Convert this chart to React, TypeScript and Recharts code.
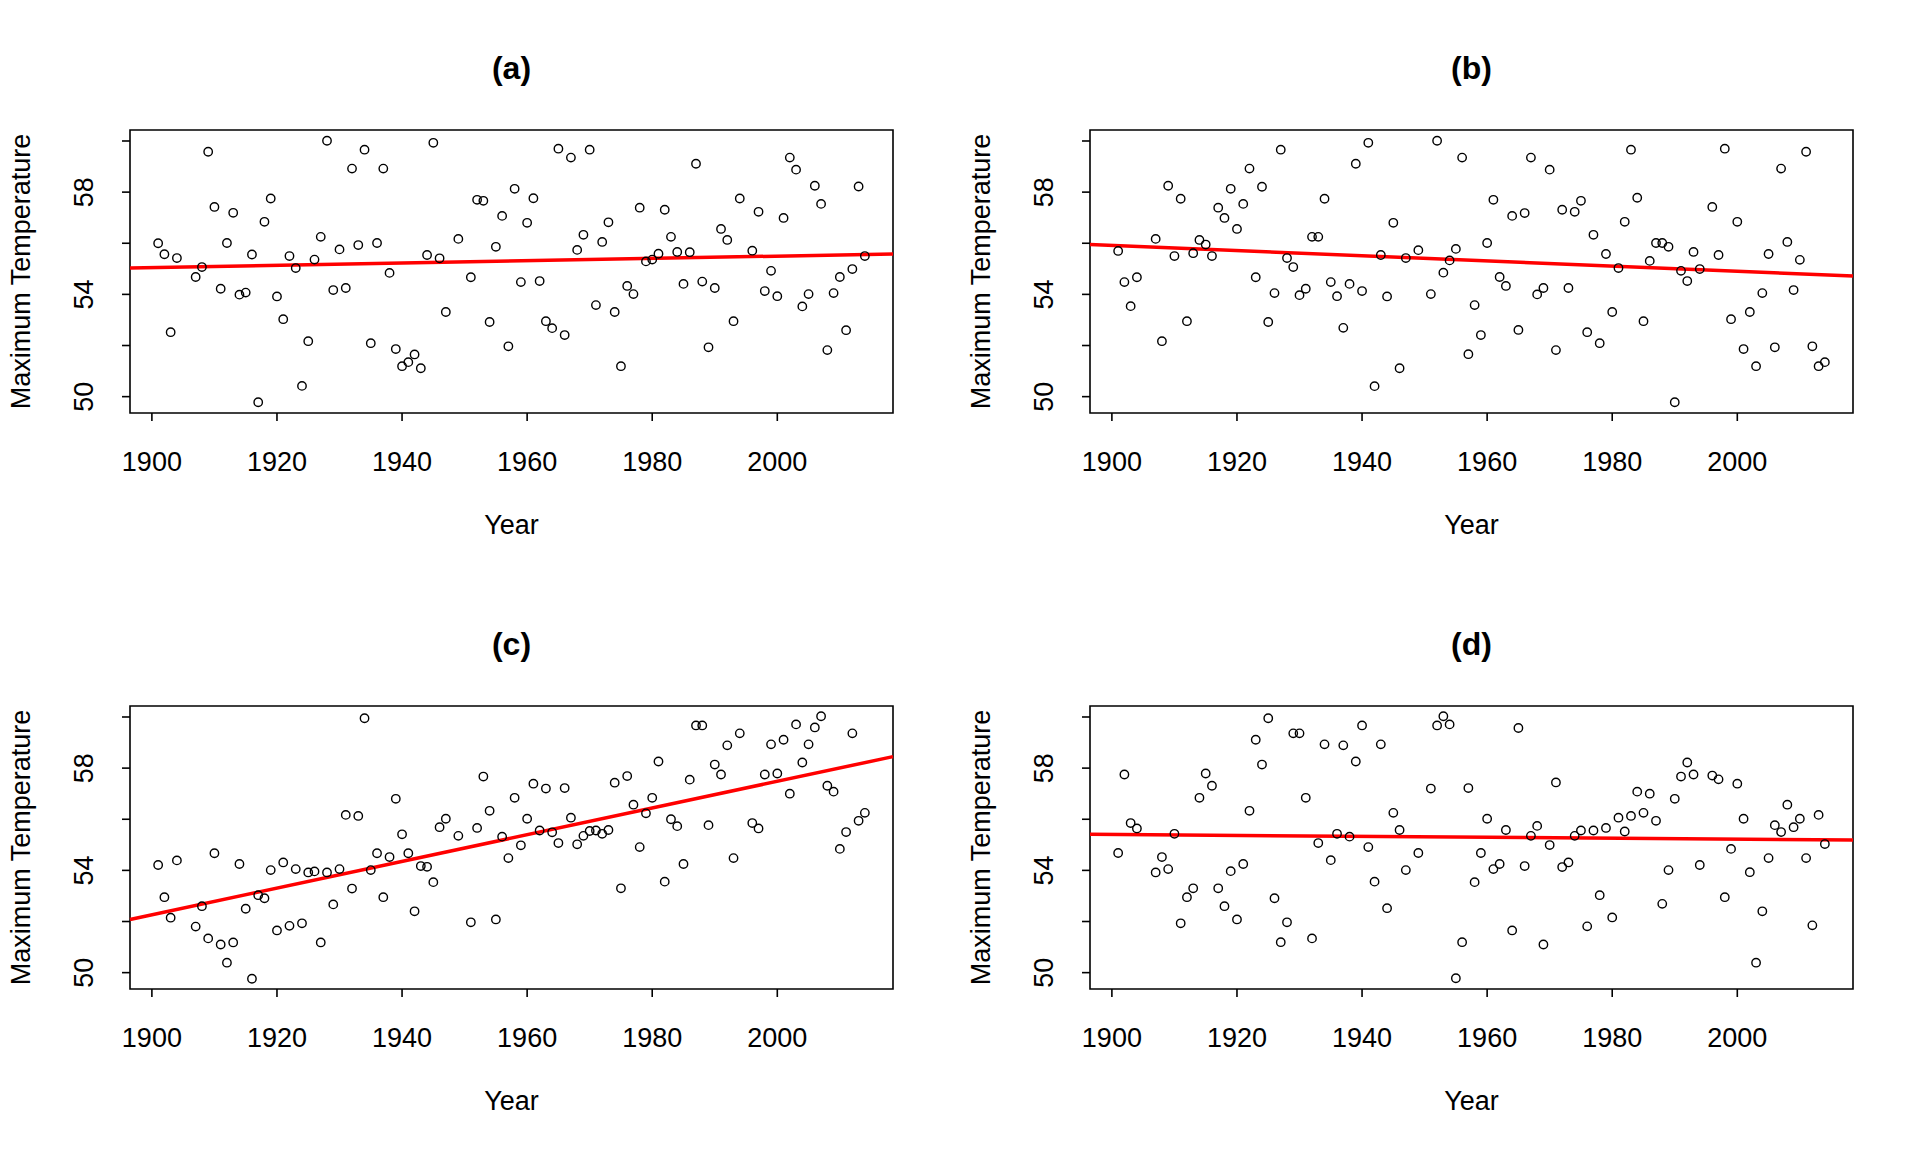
import React from 'react';
import { ScatterChart, Scatter, XAxis, YAxis, ReferenceLine, ReferenceArea } from 'recharts';

// Years with observations (1905, 1906, 1948, 1950, 1995 absent)
const years = [
  1901, 1902, 1903, 1904,
  1907, 1908, 1909, 1910, 1911, 1912, 1913, 1914, 1915, 1916,
  1917, 1918, 1919, 1920, 1921, 1922, 1923, 1924, 1925, 1926,
  1927, 1928, 1929, 1930, 1931, 1932, 1933, 1934, 1935, 1936,
  1937, 1938, 1939, 1940, 1941, 1942, 1943, 1944, 1945, 1946,
  1947, 1949,
  1951, 1952, 1953, 1954, 1955, 1956, 1957, 1958, 1959, 1960,
  1961, 1962, 1963, 1964, 1965, 1966, 1967, 1968, 1969, 1970,
  1971, 1972, 1973, 1974, 1975, 1976, 1977, 1978, 1979, 1980,
  1981, 1982, 1983, 1984, 1985, 1986, 1987, 1988, 1989, 1990,
  1991, 1992, 1993, 1994,
  1996, 1997, 1998, 1999, 2000, 2001, 2002, 2003, 2004, 2005,
  2006, 2007, 2008, 2009, 2010, 2011, 2012, 2013, 2014,
];

const tempA = [
  56.0, 55.57, 52.52, 55.42,
  54.68, 55.07, 59.58, 57.42, 54.22, 56.01, 57.19, 53.99, 54.07, 55.56,
  49.78, 56.84, 57.75, 53.92, 53.03, 55.5, 55.03, 50.42, 52.17, 55.36,
  56.25, 60.01, 54.17, 55.76, 54.25, 58.92, 55.93, 59.66, 52.09, 56.01,
  58.92, 54.84, 51.86, 51.19, 51.35, 51.65, 51.11, 55.54, 59.93, 55.41,
  53.31, 56.17,
  54.67, 57.7, 57.66, 52.92, 55.86, 57.07, 51.97, 58.13, 54.48, 56.8,
  57.76, 54.52, 52.95, 52.68, 59.7, 52.41, 59.35, 55.74, 56.33, 59.66,
  53.58, 56.05, 56.82, 53.31, 51.19, 54.33, 54.01, 57.39, 55.29, 55.36,
  55.59, 57.31, 56.25, 55.66, 54.41, 55.65, 59.11, 54.5, 51.93, 54.25,
  56.56, 56.13, 52.95, 57.75,
  55.71, 57.23, 54.13, 54.92, 53.93, 56.99, 59.35, 58.88, 53.53, 54.01,
  58.25, 57.54, 51.82, 54.05, 54.68, 52.6, 54.99, 58.22, 55.5,
];

const tempB = [
  55.7, 54.48, 53.54, 54.67,
  56.17, 52.17, 58.25, 55.5, 57.74, 52.95, 55.61, 56.13, 55.95, 55.5,
  57.39, 56.99, 58.13, 56.56, 57.54, 58.92, 54.67, 58.21, 52.92, 54.05,
  59.66, 55.42, 55.07, 53.97, 54.22, 56.25, 56.25, 57.74, 54.48, 53.93,
  52.69, 54.41, 59.11, 54.13, 59.93, 50.41, 55.54, 53.92, 56.8, 51.11,
  55.42, 55.73,
  54.01, 60.01, 54.85, 55.33, 55.78, 59.35, 51.66, 53.58, 52.41, 56.01,
  57.7, 54.68, 54.33, 57.07, 52.61, 57.18, 59.35, 54.0, 54.25, 58.88,
  51.82, 57.31, 54.25, 57.23, 57.66, 52.52, 56.33, 52.09, 55.58, 53.31,
  55.03, 56.84, 59.66, 57.78, 52.95, 55.31, 56.01, 56.01, 55.86, 49.78,
  54.92, 54.52, 55.66, 54.99,
  57.42, 55.54, 59.7, 53.03, 56.84, 51.86, 53.31, 51.19, 54.05, 55.58,
  51.93, 58.92, 56.05, 54.17, 55.35, 59.58, 51.97, 51.19, 51.35,
];

const tempC = [
  54.21, 52.95, 52.15, 54.39,
  51.8, 52.6, 51.34, 54.67, 51.1, 50.39, 51.18, 54.25, 52.5, 49.76,
  53.03, 52.91, 54.01, 51.65, 54.31, 51.83, 54.05, 51.93, 53.92, 53.96,
  51.18, 53.92, 52.67, 54.05, 56.17, 53.29, 56.13, 59.95, 54.01, 54.67,
  52.95, 54.52, 56.8, 55.41, 54.67, 52.4, 54.17, 54.14, 53.54, 55.69,
  56.02, 55.35,
  51.97, 55.66, 57.67, 56.33, 52.08, 55.32, 54.48, 56.84, 54.98, 56.02,
  57.39, 55.56, 57.2, 55.49, 55.07, 57.22, 56.06, 55.02, 55.35, 55.54,
  55.56, 55.43, 55.58, 57.43, 53.3, 57.69, 56.57, 54.91, 56.23, 56.84,
  58.26, 53.56, 56.0, 55.73, 54.25, 57.55, 59.67, 59.67, 55.77, 58.14,
  57.75, 58.89, 54.48, 59.36,
  55.85, 55.64, 57.75, 58.93, 57.79, 59.11, 57.0, 59.71, 58.22, 58.93,
  59.59, 60.03, 57.31, 57.08, 54.84, 55.5, 59.36, 55.94, 56.25,
];

const tempD = [
  54.68, 57.75, 55.85, 55.64,
  53.92, 54.52, 54.05, 55.43, 51.93, 52.95, 53.3, 56.84, 57.79, 57.31,
  53.3, 52.6, 53.97, 52.08, 54.25, 56.33, 59.11, 58.14, 59.95, 52.91,
  51.19, 51.97, 59.36, 59.36, 56.84, 51.34, 55.07, 58.93, 54.4, 55.43,
  58.89, 55.32, 58.26, 59.67, 54.91, 53.56, 58.93, 52.52, 56.25, 55.58,
  54.01, 54.68,
  57.2, 59.67, 60.03, 59.71, 49.78, 51.19, 57.22, 53.54, 54.68, 56.02,
  54.05, 54.25, 55.58, 51.65, 59.57, 54.17, 55.35, 55.74, 51.1, 54.99,
  57.44, 54.13, 54.31, 55.35, 55.56, 51.81, 55.56, 53.03, 55.66, 52.16,
  56.06, 55.52, 56.13, 57.08, 56.25, 57.0, 55.94, 52.69, 54.01, 56.8,
  57.67, 58.22, 57.75, 54.21,
  57.71, 57.56, 52.95, 54.84, 57.39, 56.02, 53.93, 50.39, 52.4, 54.48,
  55.77, 55.5, 56.57, 55.69, 56.02, 54.48, 51.85, 56.17, 55.03,
];

// Fitted trend line values at the left and right edges of the plot region
const trendYears = [1896.5, 2018.5];
const trendA = [55.03, 55.58];
const trendB = [55.95, 54.72];
const trendC = [52.08, 58.45];
const trendD = [55.41, 55.19];

const panelTitles = ['(a)', '(b)', '(c)', '(d)'];
const xTicks = [1900, 1920, 1940, 1960, 1980, 2000];
const yTicks = [50, 52, 54, 56, 58, 60];
const yLabelTicks = [50, 54, 58];
const xDomain = [1896.5, 2018.5];
const yDomain = [49.36, 60.43];

const FONT = '"Liberation Sans", Arial, Helvetica, sans-serif';
const PLOT_LEFT = 130;
const PLOT_RIGHT = 893;
const PLOT_TOP = 130;
const PLOT_BOTTOM = 413;

const XTick = (props: any) => {
  const { x, payload } = props;
  return (
    <g>
      <line x1={x} x2={x} y1={PLOT_BOTTOM} y2={PLOT_BOTTOM + 8} stroke="#000" strokeWidth={1.6} />
      <text x={x} y={462} textAnchor="middle" dominantBaseline="central" fontFamily={FONT} fontSize={27} fill="#000">
        {payload.value}
      </text>
    </g>
  );
};

const YTick = (props: any) => {
  const { y, payload } = props;
  const show = yLabelTicks.includes(payload.value);
  return (
    <g>
      <line x1={PLOT_LEFT - 8} x2={PLOT_LEFT} y1={y} y2={y} stroke="#000" strokeWidth={1.6} />
      {show && (
        <text
          x={84}
          y={y}
          transform={`rotate(-90 84 ${y})`}
          textAnchor="middle"
          dominantBaseline="central"
          fontFamily={FONT}
          fontSize={27}
          fill="#000"
        >
          {payload.value}
        </text>
      )}
    </g>
  );
};

const OpenCircle = (props: any) => {
  const { cx, cy } = props;
  if (cx == null || cy == null) return null;
  return <circle cx={cx} cy={cy} r={4.2} fill="none" stroke="#000" strokeWidth={1.4} />;
};

const Panel = ({ title, values, trend }: { title: string; values: number[]; trend: number[] }) => {
  const data = years.map((year, i) => ({ year, value: values[i] }));
  const midX = (PLOT_LEFT + PLOT_RIGHT) / 2;
  const midY = (PLOT_TOP + PLOT_BOTTOM) / 2;
  return (
    <ScatterChart width={960} height={576} margin={{ top: PLOT_TOP, right: 960 - PLOT_RIGHT, bottom: 0, left: 0 }}>
      <XAxis
        type="number"
        dataKey="year"
        domain={xDomain}
        ticks={xTicks}
        interval={0}
        allowDataOverflow
        axisLine={false}
        tickLine={false}
        tick={XTick}
        height={576 - PLOT_BOTTOM}
        label={() => (
          <text x={midX} y={525} textAnchor="middle" dominantBaseline="central" fontFamily={FONT} fontSize={27} fill="#000">
            Year
          </text>
        )}
      />
      <YAxis
        type="number"
        dataKey="value"
        domain={yDomain}
        ticks={yTicks}
        interval={0}
        allowDataOverflow
        axisLine={false}
        tickLine={false}
        tick={YTick}
        width={PLOT_LEFT}
        label={() => (
          <text
            x={21}
            y={midY}
            transform={`rotate(-90 21 ${midY})`}
            textAnchor="middle"
            dominantBaseline="central"
            fontFamily={FONT}
            fontSize={27}
            fill="#000"
          >
            Maximum Temperature
          </text>
        )}
      />
      <ReferenceArea
        x1={xDomain[0]}
        x2={xDomain[1]}
        y1={yDomain[0]}
        y2={yDomain[1]}
        fill="none"
        fillOpacity={0}
        stroke="#000"
        strokeWidth={1.6}
        ifOverflow="visible"
        label={() => (
          <text x={midX} y={68} textAnchor="middle" dominantBaseline="central" fontFamily={FONT} fontSize={32} fontWeight="bold" fill="#000">
            {title}
          </text>
        )}
      />
      <Scatter data={data} shape={OpenCircle} isAnimationActive={false} />
      <ReferenceLine
        segment={[
          { x: trendYears[0], y: trend[0] },
          { x: trendYears[1], y: trend[1] },
        ]}
        stroke="#FF0000"
        strokeWidth={3.5}
        ifOverflow="visible"
      />
    </ScatterChart>
  );
};

const panels = [
  { title: panelTitles[0], values: tempA, trend: trendA, left: 0, top: 0 },
  { title: panelTitles[1], values: tempB, trend: trendB, left: 960, top: 0 },
  { title: panelTitles[2], values: tempC, trend: trendC, left: 0, top: 576 },
  { title: panelTitles[3], values: tempD, trend: trendD, left: 960, top: 576 },
];

export default function App() {
  return (
    <div style={{ position: 'absolute', left: 0, top: 0, width: 1920, height: 1152, background: '#fff' }}>
      {panels.map((p) => (
        <div key={p.title} style={{ position: 'absolute', left: p.left, top: p.top, width: 960, height: 576 }}>
          <Panel title={p.title} values={p.values} trend={p.trend} />
        </div>
      ))}
    </div>
  );
}
